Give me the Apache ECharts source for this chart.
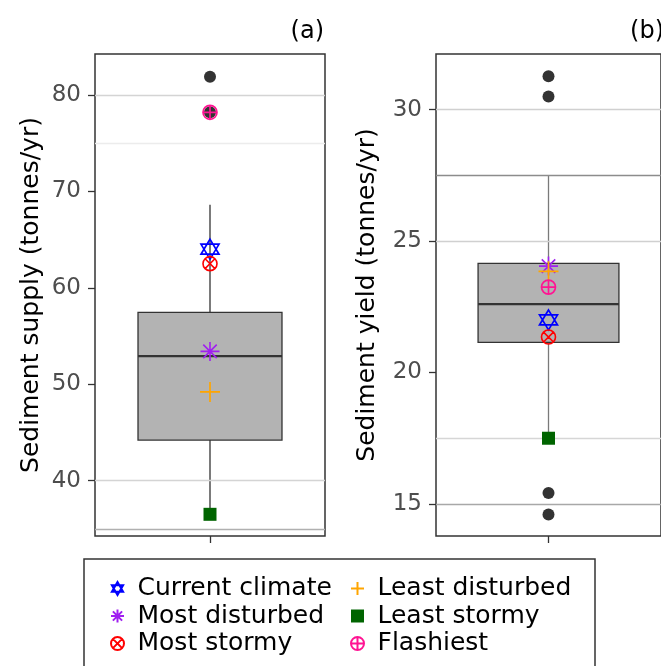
<!DOCTYPE html>
<html><head><meta charset="utf-8">
<script src="https://cdn.jsdelivr.net/npm/echarts@6/dist/echarts.min.js"></script>
<style>html,body{margin:0;padding:0;background:#fff}#c{width:661px;height:666px}</style>
</head><body><div id="c"></div>
<script>
// ---- data ----
const category = [''];
const scenarioNames = ['Current climate', 'Most disturbed', 'Most stormy', 'Least disturbed', 'Least stormy', 'Flashiest'];

const supplyBox = [36.5, 44.2, 52.9, 57.45, 68.6];          // min, Q1, median, Q3, max (whiskers)
const supplyOutliers = [81.9, 78.2];
const supplyScenarios = [64.0, 53.4, 62.5, 49.2, 36.5, 78.2];
const supplyTicks = [40, 50, 60, 70, 80];
const supplyGridValues = [80, 75, 40, 35];

const yieldBox = [17.5, 21.15, 22.6, 24.15, 27.5];
const yieldOutliers = [31.27, 30.5, 15.42, 14.6];
const yieldScenarios = [22.0, 24.05, 21.35, 23.85, 17.5, 23.25];
const yieldTicks = [15, 20, 25, 30];
const yieldGridValues = [30, 27.5, 25, 17.5, 15];

// ---- styles ----
const FONT = 'DejaVu Sans';
const supplyGridColors = ['#d4d4d4', '#ececec', '#d4d4d4', '#b0b0b0'];
const yieldGridColors = ['#d0d0d0', '#8c8c8c', '#d0d0d0', '#d6d6d6', '#a8a8a8'];

const starPath = 'path://M5,0L10,8.66L0,8.66Z M0,2.89L10,2.89L5,11.55Z';
const asteriskPath = 'path://M5,0L5,10M0,5L10,5M1.46,1.46L8.54,8.54M8.54,1.46L1.46,8.54';
const circleXPath = 'path://M0,5A5,5 0 1,0 10,5A5,5 0 1,0 0,5Z M1.46,1.46L8.54,8.54M8.54,1.46L1.46,8.54';
const plusPath = 'path://M5,0L5,10M0,5L10,5';
const squarePath = 'path://M0,0L10,0L10,10L0,10Z';
const circlePlusPath = 'path://M0,5A5,5 0 1,0 10,5A5,5 0 1,0 0,5Z M5,0L5,10M0,5L10,5';

const scenarioStyles = [
  {symbol: starPath, symbolSize: [18, 20], itemStyle: {color: 'transparent', borderColor: '#0000ff', borderWidth: 1.7, opacity: 1}},
  {symbol: asteriskPath, symbolSize: 19, itemStyle: {color: 'transparent', borderColor: '#a020f0', borderWidth: 1.6, opacity: 1}},
  {symbol: circleXPath, symbolSize: 14, itemStyle: {color: 'transparent', borderColor: '#ff0000', borderWidth: 1.6, opacity: 1}},
  {symbol: plusPath, symbolSize: 20, itemStyle: {color: 'transparent', borderColor: '#ffa500', borderWidth: 1.7, opacity: 1}},
  {symbol: squarePath, symbolSize: 13, itemStyle: {color: '#006400', borderWidth: 0, opacity: 1}},
  {symbol: circlePlusPath, symbolSize: 14, itemStyle: {color: 'transparent', borderColor: '#ff1493', borderWidth: 1.7, opacity: 1}}
];

function boxRenderer(whiskerColor) {
  return function (params, api) {
    const c = api.value(0);
    const p = [1, 2, 3, 4, 5].map(d => api.coord([c, api.value(d)]));
    const bw = api.size([1, 0])[0] * 0.626;
    const x = p[0][0];
    return {
      type: 'group',
      children: [
        {type: 'line', shape: {x1: x, y1: p[3][1], x2: x, y2: p[4][1]}, style: {stroke: whiskerColor, lineWidth: 1.3}},
        {type: 'line', shape: {x1: x, y1: p[0][1], x2: x, y2: p[1][1]}, style: {stroke: whiskerColor, lineWidth: 1.3}},
        {type: 'rect', shape: {x: x - bw / 2, y: p[3][1], width: bw, height: p[1][1] - p[3][1]},
          style: {fill: '#b3b3b3', stroke: '#333', lineWidth: 1.3}},
        {type: 'line', shape: {x1: x - bw / 2, y1: p[2][1], x2: x + bw / 2, y2: p[2][1]}, style: {stroke: '#333', lineWidth: 2.3}}
      ]
    };
  };
}

function panelSeries(idx, box, outliers, scen, gridVals, gridCols, whiskerColor) {
  const s = [];
  s.push({
    type: 'scatter', xAxisIndex: idx, yAxisIndex: idx, data: [], z: 1, silent: true,
    markLine: {
      silent: true, symbol: 'none', label: {show: false}, animation: false,
      data: gridVals.map((v, i) => ({yAxis: v, lineStyle: {color: gridCols[i], width: 1.3, type: 'solid'}}))
    }
  });
  s.push({
    type: 'custom', xAxisIndex: idx, yAxisIndex: idx, z: 2, silent: true,
    renderItem: boxRenderer(whiskerColor),
    data: [[0].concat(box)], encode: {x: 0, y: [1, 2, 3, 4, 5]}
  });
  s.push({
    type: 'scatter', xAxisIndex: idx, yAxisIndex: idx, z: 3, silent: true,
    symbol: 'circle', symbolSize: 12, itemStyle: {color: '#333', opacity: 1},
    data: outliers.map(v => [0, v])
  });
  scenarioNames.forEach((n, i) => {
    s.push(Object.assign({
      type: 'scatter', name: n, xAxisIndex: idx, yAxisIndex: idx, z: 4 + i, silent: true,
      data: [[0, scen[i]]]
    }, scenarioStyles[i]));
  });
  return s;
}

function yAxisCfg(idx, min, max, ticks, name, gap) {
  return {
    type: 'value', gridIndex: idx, min: min, max: max,
    axisLine: {show: false},
    axisTick: {show: true, length: 7, customValues: ticks, lineStyle: {color: '#333', width: 1.3}},
    axisLabel: {customValues: ticks, fontSize: 23, color: '#4d4d4d', margin: 14, fontFamily: FONT},
    splitLine: {show: false},
    name: name, nameLocation: 'middle', nameGap: gap,
    nameTextStyle: {fontSize: 25, color: '#000', fontFamily: FONT}
  };
}
function xAxisCfg(idx) {
  return {
    type: 'category', gridIndex: idx, data: category,
    axisLine: {show: false},
    axisTick: {show: true, alignWithLabel: true, length: 7, lineStyle: {color: '#333', width: 1.3}},
    axisLabel: {show: true, color: 'transparent'},
    splitLine: {show: false}
  };
}

const legendBase = {
  orient: 'vertical', top: 576, itemWidth: 30, itemHeight: 13, itemGap: 2.5, padding: 0,
  selectedMode: false, textStyle: {fontSize: 25, color: '#000', fontFamily: FONT}
};

const option = {
  animation: false,
  backgroundColor: '#fff',
  grid: [
    {left: 95, top: 54, width: 230, height: 482, show: true, borderColor: '#333', borderWidth: 1.5, backgroundColor: 'transparent'},
    {left: 436, top: 54, width: 230, height: 482, show: true, borderColor: '#333', borderWidth: 1.5, backgroundColor: 'transparent'}
  ],
  xAxis: [xAxisCfg(0), xAxisCfg(1)],
  yAxis: [
    yAxisCfg(0, 34.25, 84.25, supplyTicks, 'Sediment supply (tonnes/yr)', 51),
    yAxisCfg(1, 13.78, 32.12, yieldTicks, 'Sediment yield (tonnes/yr)', 56)
  ],
  legend: [
    Object.assign({left: 110, data: scenarioNames.slice(0, 3)}, legendBase),
    Object.assign({left: 350, data: scenarioNames.slice(3)}, legendBase)
  ],
  graphic: [
    {type: 'text', x: 324, y: 32, style: {text: '(a)', align: 'right', verticalAlign: 'middle', font: '24px "DejaVu Sans"', fill: '#000'}},
    {type: 'text', x: 664, y: 32, style: {text: '(b)', align: 'right', verticalAlign: 'middle', font: '24px "DejaVu Sans"', fill: '#000'}},
    {type: 'rect', shape: {x: 84, y: 559, width: 511, height: 200}, style: {fill: 'none', stroke: '#333', lineWidth: 1.5}, silent: true}
  ],
  series: [].concat(
    panelSeries(0, supplyBox, supplyOutliers, supplyScenarios, supplyGridValues, supplyGridColors, '#333'),
    panelSeries(1, yieldBox, yieldOutliers, yieldScenarios, yieldGridValues, yieldGridColors, '#7a7a7a')
  )
};

const chart = echarts.init(document.getElementById('c'), null, {renderer: 'canvas'});
chart.setOption(option);
</script>
</body></html>
